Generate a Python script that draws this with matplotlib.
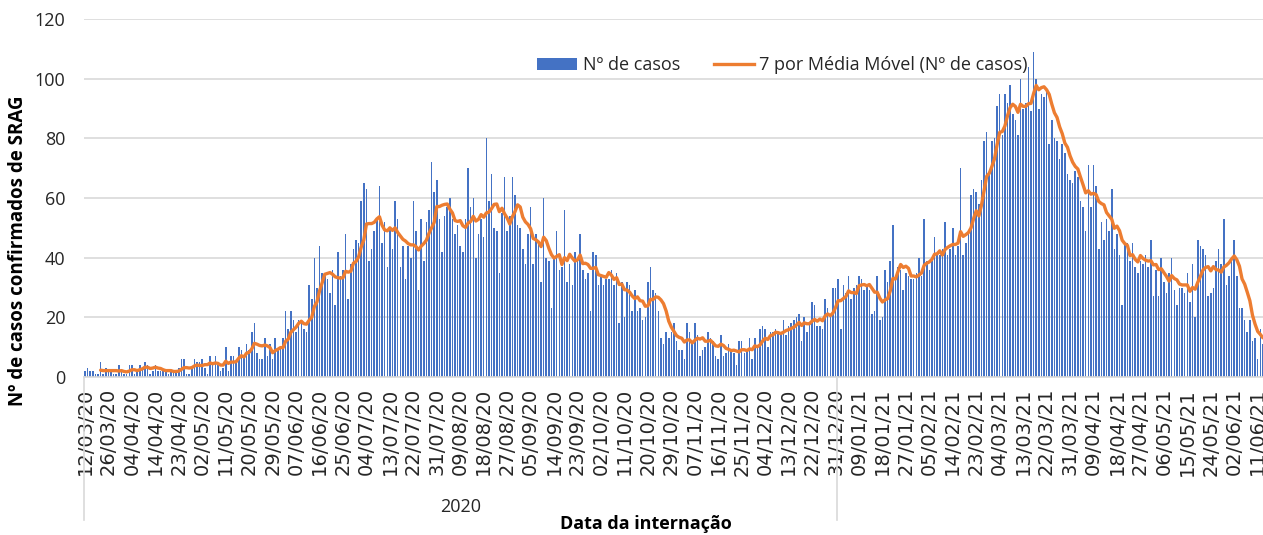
import matplotlib.pyplot as plt
import numpy as np
import pandas as pd
from matplotlib.patches import Patch
from matplotlib.lines import Line2D

plt.rcParams['font.family'] = ['Open Sans', 'DejaVu Sans']

# daily SRAG cases, one value per category (12/03/20 .. 12/06/21)
cases = [
    2, 3, 2, 2, 1, 1, 5, 1, 3, 2, 2, 1, 1, 4, 2, 1, 1, 4, 4, 1, 2, 4, 3, 5, 4, 1, 2, 4, 2, 2,
    2, 2, 1, 2, 2, 2, 3, 6, 6, 1, 1, 3, 6,
    5, 5, 6, 3, 1, 7, 4, 7, 4, 2, 3, 10, 2, 7, 7, 5, 10, 9, 7, 11, 9, 15, 18, 8, 6, 6, 13, 7, 11, 6,
    13, 9, 10, 13, 22, 16, 22, 19, 15, 19, 18, 16, 15, 31, 26,
    40, 30, 44, 35, 35, 33, 28, 36, 24, 42, 34, 36, 48, 26, 38, 43, 46, 45, 59, 65, 63, 39, 43, 49, 53,
    64, 45, 52, 37, 50, 43, 59, 53, 37, 44, 33, 44, 40, 59, 49, 29, 53, 39, 52, 56,
    72, 62, 66, 53, 42, 54, 57, 60, 53, 48, 51, 44, 42, 53, 70, 57, 60, 40, 48, 53, 47, 80, 59, 68, 50,
    49, 35, 55, 67, 49, 54, 67, 61, 51, 50, 43, 38, 48, 57, 38, 48, 45, 32, 60, 40,
    39, 23, 40, 49, 36, 37, 56, 32, 38, 31, 42, 39, 48, 36, 33, 35, 22, 42, 41, 31, 34, 31, 33, 33, 36,
    31, 35, 18, 32, 20, 32, 31, 22, 29, 22, 23, 19, 20, 32, 37, 29, 28, 22, 13, 11,
    15, 13, 15, 18, 12, 9, 9, 6, 18, 15, 11, 18, 14, 7, 9, 10, 15, 13, 12, 7, 6, 14, 7, 8, 11,
    9, 8, 4, 12, 12, 8, 9, 13, 6, 13, 10, 16, 17, 16, 10, 15, 15, 16, 15, 15,
    19, 14, 17, 18, 19, 20, 21, 12, 20, 15, 18, 25, 24, 17, 17, 16, 26, 23, 21, 30, 30, 33, 16, 31, 28,
    34, 26, 30, 31, 34, 33, 29, 31, 29, 21, 22, 34, 19, 20, 36, 32, 39, 51, 33, 37,
    36, 29, 35, 34, 33, 33, 35, 40, 34, 53, 39, 36, 39, 47, 41, 41, 43, 52, 41, 43, 50, 41, 44, 70, 41,
    45, 48, 61, 63, 62, 58, 66, 79, 82, 68, 79, 80, 91, 95, 81, 95, 92, 98, 88, 86,
    81, 100, 90, 92, 104, 89, 109, 100, 90, 95, 94, 97, 78, 86, 80, 79, 73, 78, 75, 68, 66, 65, 69, 67, 59,
    57, 49, 71, 57, 71, 64, 43, 52, 46, 53, 49, 63, 43, 48, 41, 24, 45, 45, 39, 45,
    37, 35, 39, 38, 41, 37, 46, 27, 36, 27, 40, 32, 28, 35, 40, 29, 24, 30, 30, 28, 35, 25, 38, 20, 46,
    44, 43, 41, 27, 28, 30, 39, 43, 38, 53, 31, 34, 39, 46, 34, 23, 23, 19, 15, 19, 12, 13, 6, 16, 11,
]

date_labels = [
    '12/03/20', '26/03/20', '04/04/20', '14/04/20', '23/04/20', '02/05/20', '11/05/20', '20/05/20',
    '29/05/20', '07/06/20', '16/06/20', '25/06/20', '04/07/20', '13/07/20', '22/07/20', '31/07/20',
    '09/08/20', '18/08/20', '27/08/20', '05/09/20', '14/09/20', '23/09/20', '02/10/20', '11/10/20',
    '20/10/20', '29/10/20', '07/11/20', '16/11/20', '25/11/20', '04/12/20', '13/12/20', '22/12/20',
    '31/12/20', '09/01/21', '18/01/21', '27/01/21', '05/02/21', '14/02/21', '23/02/21', '04/03/21',
    '13/03/21', '22/03/21', '31/03/21', '09/04/21', '18/04/21', '27/04/21', '06/05/21', '15/05/21',
    '24/05/21', '02/06/21', '11/06/21',
]
year_label = '2020'
n_2020 = 289   # categories up to 31/12/20

blue = '#4472C4'
orange = '#ED7D31'
txt = '#262626'

ma = pd.Series(cases).rolling(7).mean()
x = np.arange(len(cases))

fig = plt.figure(figsize=(12.63, 5.35), dpi=100)
ax = fig.add_axes([83.7 / 1263, 158 / 535, 1180.5 / 1263, 358 / 535])

ax.bar(x, cases, width=0.6, color=blue, zorder=2)
ax.plot(x, ma, color=orange, lw=2.4, zorder=3, solid_capstyle='round')

ax.set_xlim(-0.5, len(cases) - 0.5)
ax.set_ylim(0, 120)
ax.set_yticks(range(0, 121, 20))
ax.grid(axis='y', color='#D9D9D9', lw=1.2, zorder=0)
ax.set_xticks(range(0, len(cases), 9))
ax.set_xticklabels(date_labels, rotation=90, family='DejaVu Sans', fontsize=14)
ax.tick_params(length=0, colors=txt)
ax.tick_params(axis='y', labelsize=13, pad=13)
ax.tick_params(axis='x', pad=8)
for s in ['left', 'right', 'top']:
    ax.spines[s].set_visible(False)
ax.spines['bottom'].set_color('#D9D9D9')
ax.spines['bottom'].set_linewidth(1.2)

# year group lines under the date labels
tr = ax.get_xaxis_transform()
for gx in [-0.5, n_2020 - 0.5]:
    ax.plot([gx, gx], [0, -0.40], transform=tr, color='#D9D9D9', lw=1.2, clip_on=False)
ax.text((n_2020 - 1) / 2, -0.363, year_label, transform=tr, ha='center', va='center',
        fontsize=13, color=txt)

fig.text(646 / 1263, 1 - 524 / 535, 'Data da internação', ha='center', va='center',
         fontsize=13, fontweight='bold', color='black')
fig.text(18 / 1263, 0.531, 'Nº de casos confirmados de SRAG', ha='center', va='center',
         rotation=90, fontsize=13.5, fontweight='bold', color='black')

handles = [Patch(facecolor=blue), Line2D([], [], color=orange, lw=2.4)]
ax.legend(handles, ['Nº de casos', '7 por Média Móvel (Nº de casos)'], ncol=2, frameon=False,
          loc='center', bbox_to_anchor=(0.592, 0.871), fontsize=13, handlelength=2.2,
          handleheight=0.7, handletextpad=0.3, columnspacing=1.9, labelcolor=txt)

fig.savefig('out.png', dpi=100)
